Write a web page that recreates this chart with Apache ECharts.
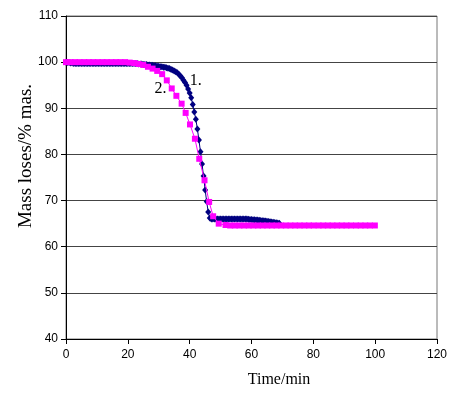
<!DOCTYPE html>
<html>
<head>
<meta charset="utf-8">
<script src="https://cdn.jsdelivr.net/npm/echarts@6/dist/echarts.min.js"></script>
<style>html,body{margin:0;padding:0;background:#fff}#c{width:452px;height:393px}</style>
</head>
<body>
<div id="c"></div>
<script>
// Series 1 (navy diamonds): time (min) and mass (%)
var time1 = [0,0.5,1,1.5,2,2.5,3,3.5,4,4.5,5,5.5,6,6.5,7,7.5,8,8.5,9,9.5,10,10.5,11,11.5,12,12.5,13,13.5,14,14.5,15,15.5,16,16.5,17,17.5,18,18.5,19,19.5,20,20.5,21,21.5,22,22.5,23,23.5,24,24.5,25,25.5,26,26.5,27,27.5,28,28.5,29,29.5,30,30.5,31,31.5,32,32.5,33,33.5,34,34.5,35,35.5,36,36.5,37,37.5,38,38.5,39,39.5,40,40.5,41,41.5,42,42.5,43,43.5,44,44.5,45,45.5,46,46.5,47,47.5,48,48.5,49,49.5,50,50.5,51,51.5,52,52.5,53,53.5,54,54.5,55,55.5,56,56.5,57,57.5,58,58.5,59,59.5,60,60.5,61,61.5,62,62.5,63,63.5,64,64.5,65,65.5,66,66.5,67,67.5,68,68.5,69];
var mass1 = [100.0,99.9,99.9,99.8,99.8,99.7,99.7,99.7,99.7,99.7,99.7,99.7,99.7,99.7,99.7,99.7,99.7,99.7,99.7,99.7,99.7,99.7,99.7,99.7,99.7,99.7,99.7,99.7,99.7,99.7,99.7,99.7,99.7,99.7,99.7,99.7,99.7,99.7,99.7,99.7,99.7,99.7,99.7,99.7,99.7,99.7,99.7,99.6,99.6,99.6,99.5,99.5,99.5,99.4,99.4,99.3,99.3,99.2,99.2,99.1,99.1,99.0,99.0,98.9,98.9,98.8,98.7,98.6,98.4,98.3,98.1,97.9,97.7,97.4,97.0,96.6,96.1,95.6,95.0,94.2,93.3,92.3,90.8,89.2,87.6,85.5,83.1,80.6,77.9,75.3,72.3,69.8,67.5,66.2,66.0,66.0,66.0,66.0,66.0,66.0,66.0,66.0,66.0,66.0,66.0,66.0,66.0,66.0,66.0,66.0,66.0,66.0,66.0,66.0,66.0,66.0,66.0,66.0,65.95,65.9,65.9,65.85,65.85,65.8,65.8,65.75,65.7,65.65,65.6,65.55,65.5,65.45,65.4,65.35,65.3,65.25,65.2,65.15,65.1,65.05,65.0];
// Series 2 (magenta squares)
var time2 = [0,1.5,2.9,4.4,5.9,7.4,8.8,10.3,11.8,13.2,14.7,16.2,17.6,19.1,20.6,22.1,23.5,25.0,26.5,28.0,29.5,31.1,32.6,34.2,35.7,37.4,38.7,40.1,41.7,43.1,44.8,46.3,47.6,49.4,51.6,53.1,54.6,56.1,57.6,59.1,60.6,62.1,63.6,65.1,66.6,68.1,69.6,71.1,72.6,74.1,75.6,77.1,78.6,80.1,81.7,83.2,84.7,86.2,87.7,89.2,90.7,92.2,93.8,95.3,96.8,98.3,99.9];
var mass2 = [100.0,100.0,100.0,100.0,100.0,100.0,100.0,100.0,100.0,100.0,100.0,100.0,100.0,100.0,99.9,99.8,99.6,99.4,99.0,98.6,98.1,97.4,96.05,94.3,92.7,91.0,89.0,86.5,83.4,79.05,74.4,69.7,66.6,65.0,64.7,64.6,64.6,64.6,64.6,64.6,64.6,64.6,64.6,64.6,64.6,64.6,64.6,64.6,64.6,64.6,64.6,64.6,64.6,64.6,64.6,64.6,64.6,64.6,64.6,64.6,64.6,64.6,64.6,64.6,64.6,64.6,64.6];
var xTicks = [0,20,40,60,80,100,120];
var yTicks = [40,50,60,70,80,90,100,110];
var xTitle = 'Time/min';
var yTitle = 'Mass loses/% mas.';
var labels = [{text:'1.', t:42.0, v:95.9},{text:'2.', t:30.6, v:94.2}];

function pairs(a,b){var r=[];for(var i=0;i<a.length;i++)r.push([a[i],b[i]]);return r;}

var chart = echarts.init(document.getElementById('c'), null, {renderer:'canvas'});
var option = {
  animation:false,
  backgroundColor:'#fff',
  grid:{left:66,right:15,top:16,bottom:54,show:true,borderColor:'#777',borderWidth:1},
  xAxis:{type:'value',min:xTicks[0],max:xTicks[xTicks.length-1],interval:20,
    axisLine:{show:true,onZero:false,lineStyle:{color:'#000',width:1}},
    axisTick:{show:true,inside:false,length:5,lineStyle:{color:'#000'}},
    axisLabel:{color:'#000',fontFamily:'Liberation Sans',fontSize:12,margin:10},
    splitLine:{show:false}},
  yAxis:{type:'value',min:yTicks[0],max:yTicks[yTicks.length-1],interval:10,
    axisLine:{show:true,onZero:false,lineStyle:{color:'#000',width:1}},
    axisTick:{show:true,inside:false,length:5,lineStyle:{color:'#000'}},
    axisLabel:{color:'#000',fontFamily:'Liberation Sans',fontSize:12,margin:8},
    splitLine:{show:true,lineStyle:{color:'#444',width:1}}},
  series:[
    {type:'line',name:'1',data:pairs(time1,mass1),symbol:'diamond',symbolSize:[6,7],
     itemStyle:{color:'#000080'},lineStyle:{color:'#000080',width:1},z:2},
    {type:'line',name:'2',data:pairs(time2,mass2),symbol:'rect',symbolSize:6,
     itemStyle:{color:'#ff00ff'},lineStyle:{color:'#ff00ff',width:1},z:3}
  ],
  graphic:[
    {type:'text',x:26,y:156,rotation:Math.PI/2,
     style:{text:yTitle,font:'19px "Liberation Serif"',fill:'#000',textAlign:'center',textVerticalAlign:'middle'}},
    {type:'text',x:279,y:380,
     style:{text:xTitle,font:'16px "Liberation Serif"',fill:'#000',textAlign:'center',textVerticalAlign:'middle'}}
  ]
};
chart.setOption(option);
var g = option.graphic.slice();
labels.forEach(function(l){
  var p = chart.convertToPixel({gridIndex:0},[l.t,l.v]);
  g.push({type:'text',x:p[0],y:p[1],style:{text:l.text,font:'16px "Liberation Serif"',fill:'#000',textAlign:'center',textVerticalAlign:'middle'}});
});
chart.setOption({graphic:g});
</script>
</body>
</html>
